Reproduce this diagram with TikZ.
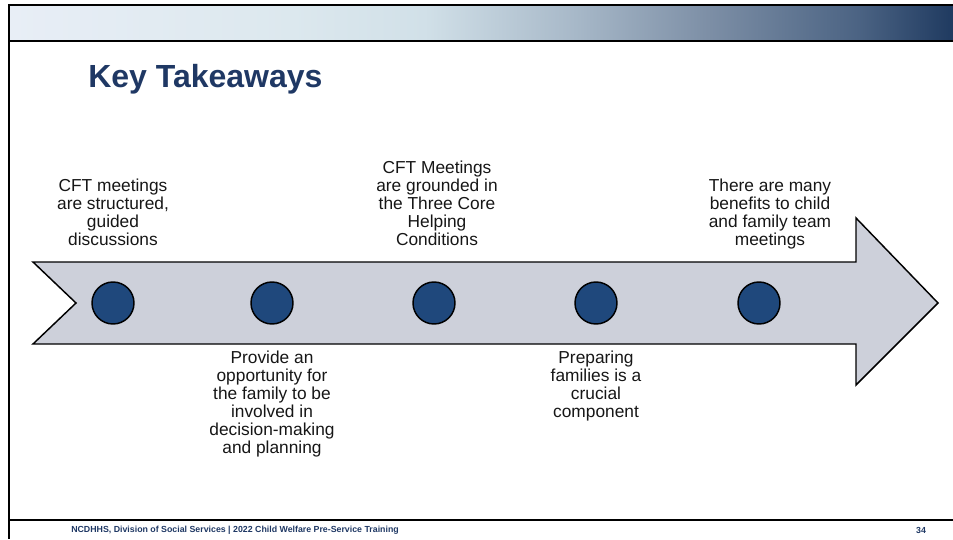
\documentclass[tikz,border=0pt]{standalone}
\usepackage{fontspec}
\setmainfont{Liberation Sans}
\usetikzlibrary{positioning}
\definecolor{ktnavy}{RGB}{31,56,100}
\definecolor{ktgrey}{RGB}{205,208,218}
\definecolor{ktdotblue}{RGB}{31,72,124}
\definecolor{kttext}{RGB}{22,22,22}
\definecolor{ktbandA}{RGB}{232,238,246}
\definecolor{ktbandB}{RGB}{220,232,238}
\definecolor{ktbandC}{RGB}{209,224,232}
\definecolor{ktbandD}{RGB}{167,184,200}
\definecolor{ktbandE}{RGB}{125,143,166}
\definecolor{ktbandF}{RGB}{75,99,131}
\definecolor{ktbandG}{RGB}{31,58,96}
\pgfdeclarehorizontalshading{ktband}{100bp}{color(0bp)=(ktbandA); color(25bp)=(ktbandA); color(40bp)=(ktbandB); color(47bp)=(ktbandC); color(55bp)=(ktbandD); color(62bp)=(ktbandE); color(70bp)=(ktbandF); color(75bp)=(ktbandG); color(100bp)=(ktbandG)}

\begin{document}
\begin{tikzpicture}[x=0.75pt,y=-0.75pt,
  ktrule/.style={line width=1.5pt,black},
  ktarrow/.style={draw=black,line width=1.1pt,fill=ktgrey,line join=miter},
  ktdot/.style={circle,draw=black,line width=1.1pt,fill=ktdotblue,minimum size=31.5pt,inner sep=0pt},
  kttxt/.style={align=center,inner sep=0pt,text=kttext,font=\fontsize{13}{13.5}\selectfont},
  ktabove/.style={kttxt,anchor=south,text depth=3pt},
  ktbelow/.style={kttxt,anchor=north},
  ktfoot/.style={ktnavy,inner sep=0pt,font=\fontsize{6.6}{8}\selectfont\bfseries}]
  \useasboundingbox (0,0) rectangle (953,539);
  % header band and frame
  \shade[shading=ktband] (9,5) rectangle (953,41);
  \draw[ktrule] (953,5) -- (9,5) -- (9,539);
  \draw[ktrule] (9,41) -- (953,41);
  \draw[ktrule] (9,520) -- (953,520);
  \node[anchor=base west,inner sep=0pt,ktnavy,font=\fontsize{24}{28}\selectfont\bfseries] (title) at (88,87) {Key Takeaways};
  % timeline arrow
  \draw[ktarrow] (33,262) -- (856,262) -- (856,218) -- (938,303) -- (856,385) -- (856,344) -- (33,344) -- (76,303) -- cycle;
  \foreach \x [count=\i] in {113,272,434,596,759}
    \node[ktdot] (c\i) at (\x,303) {};
  \node[ktabove] (t1) at (113,250) {CFT meetings\\are structured,\\guided\\discussions};
  \node[ktbelow] (t2) at (272,351) {Provide an\\opportunity for\\the family to be\\involved in\\decision-making\\and planning};
  \node[ktabove] (t3) at (437,250) {CFT Meetings\\are grounded in\\the Three Core\\Helping\\Conditions};
  \node[ktbelow] (t4) at (596,351) {Preparing\\families is a\\crucial\\component};
  \node[ktabove] (t5) at (770,250) {There are many\\benefits to child\\and family team\\meetings};
  % footer
  \node[ktfoot,anchor=west] (foot) at (71,530) {NCDHHS, Division of Social Services | 2022 Child Welfare Pre-Service Training};
  \node[ktfoot] (page) at (921,530) {34};
\end{tikzpicture}
\end{document}
